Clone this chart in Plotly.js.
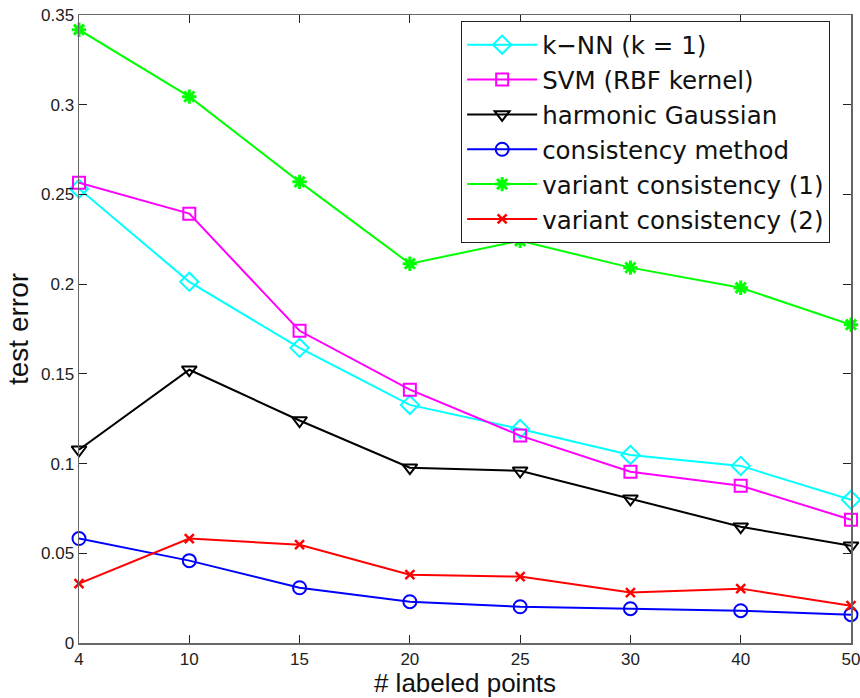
<!DOCTYPE html>
<html>
<head>
<meta charset="utf-8">
<script src="https://cdn.plot.ly/plotly-3.0.1.min.js"></script>
<style>html,body{margin:0;padding:0;background:#fff;}#chart{width:860px;height:698px;}</style>
</head>
<body>
<div id="chart"></div>
<script>
const labeledPoints = ['4', '10', '15', '20', '25', '30', '40', '50'];
const knn       = [0.2532, 0.2013, 0.1645, 0.1327, 0.1193, 0.1048, 0.0987, 0.0798];
const svm       = [0.2565, 0.2393, 0.1740, 0.1412, 0.1156, 0.0955, 0.0877, 0.0687];
const harmonic  = [0.1077, 0.1523, 0.1240, 0.0977, 0.0960, 0.0804, 0.0648, 0.0542];
const consist   = [0.0582, 0.0459, 0.0308, 0.0230, 0.0202, 0.0191, 0.0180, 0.0158];
const variant1  = [0.3418, 0.3045, 0.2570, 0.2114, 0.2242, 0.2092, 0.1980, 0.1774];
const variant2  = [0.0331, 0.0582, 0.0548, 0.0381, 0.0370, 0.0281, 0.0303, 0.0208];
const yTicks = [0, 0.05, 0.1, 0.15, 0.2, 0.25, 0.3, 0.35];
const yTickText = ['0', '0.05', '0.1', '0.15', '0.2', '0.25', '0.3', '0.35'];

function tr(name, y, color, symbol, size, mlw, grp) {
  return {
    type: 'scatter', mode: 'lines+markers', name: name, x: labeledPoints, y: y,
    line: {color: color, width: 2},
    marker: {symbol: symbol, size: size, color: color, line: {color: color, width: mlw}},
    cliponaxis: false, legendgroup: grp
  };
}
const data = [
  tr('k\u2212NN (k = 1)', knn, '#00FFFF', 'diamond-open', 14, 2, 'a'),
  tr('SVM (RBF kernel)', svm, '#FF00FF', 'square-open', 12, 2, 'b'),
  tr('harmonic Gaussian', harmonic, '#000000', 'triangle-down-open', 13, 2, 'c'),
  tr('consistency method', consist, '#0000FF', 'circle-open', 13, 2, 'd'),
  tr('variant consistency (1)', variant1, '#00FF00', 'asterisk-open', 12, 3, 'e'),
  tr('variant consistency (2)', variant2, '#FF0000', 'x-thin-open', 9, 2.5, 'f')
];
const layout = {
  width: 860, height: 698,
  margin: {l: 79, r: 9, t: 15, b: 55},
  paper_bgcolor: '#fff', plot_bgcolor: '#fff',
  font: {family: 'Liberation Sans, Arial, sans-serif', color: '#1a1a1a'},
  showlegend: true,
  legend: {
    x: 0.495, y: 0.99, xanchor: 'left', yanchor: 'top',
    bgcolor: '#fff', bordercolor: '#222', borderwidth: 1,
    font: {family: 'DejaVu Sans, sans-serif', size: 24.5, color: '#111'},
    traceorder: 'grouped', tracegroupgap: 0,
    itemwidth: 70
  },
  xaxis: {
    type: 'category', range: [0, 7],
    showgrid: false, zeroline: false,
    showline: true, linecolor: '#666', linewidth: 1.5, mirror: 'ticks',
    ticks: 'inside', ticklen: 8, tickcolor: '#222', tickwidth: 1,
    tickfont: {size: 17, color: '#222'},
    title: {text: '# labeled points', font: {size: 26, color: '#111'}, standoff: 2}
  },
  yaxis: {
    range: [0, 0.35], tickvals: yTicks, ticktext: yTickText,
    showgrid: false, zeroline: false,
    showline: true, linecolor: '#666', linewidth: 1.5, mirror: 'ticks',
    ticks: 'inside', ticklen: 8, tickcolor: '#222', tickwidth: 1,
    tickfont: {size: 17, color: '#222'},
    title: {text: 'test error', font: {size: 28, color: '#111'}, standoff: 4}
  }
};
Plotly.newPlot('chart', data, layout, {displayModeBar: false, staticPlot: true});
</script>
</body>
</html>
